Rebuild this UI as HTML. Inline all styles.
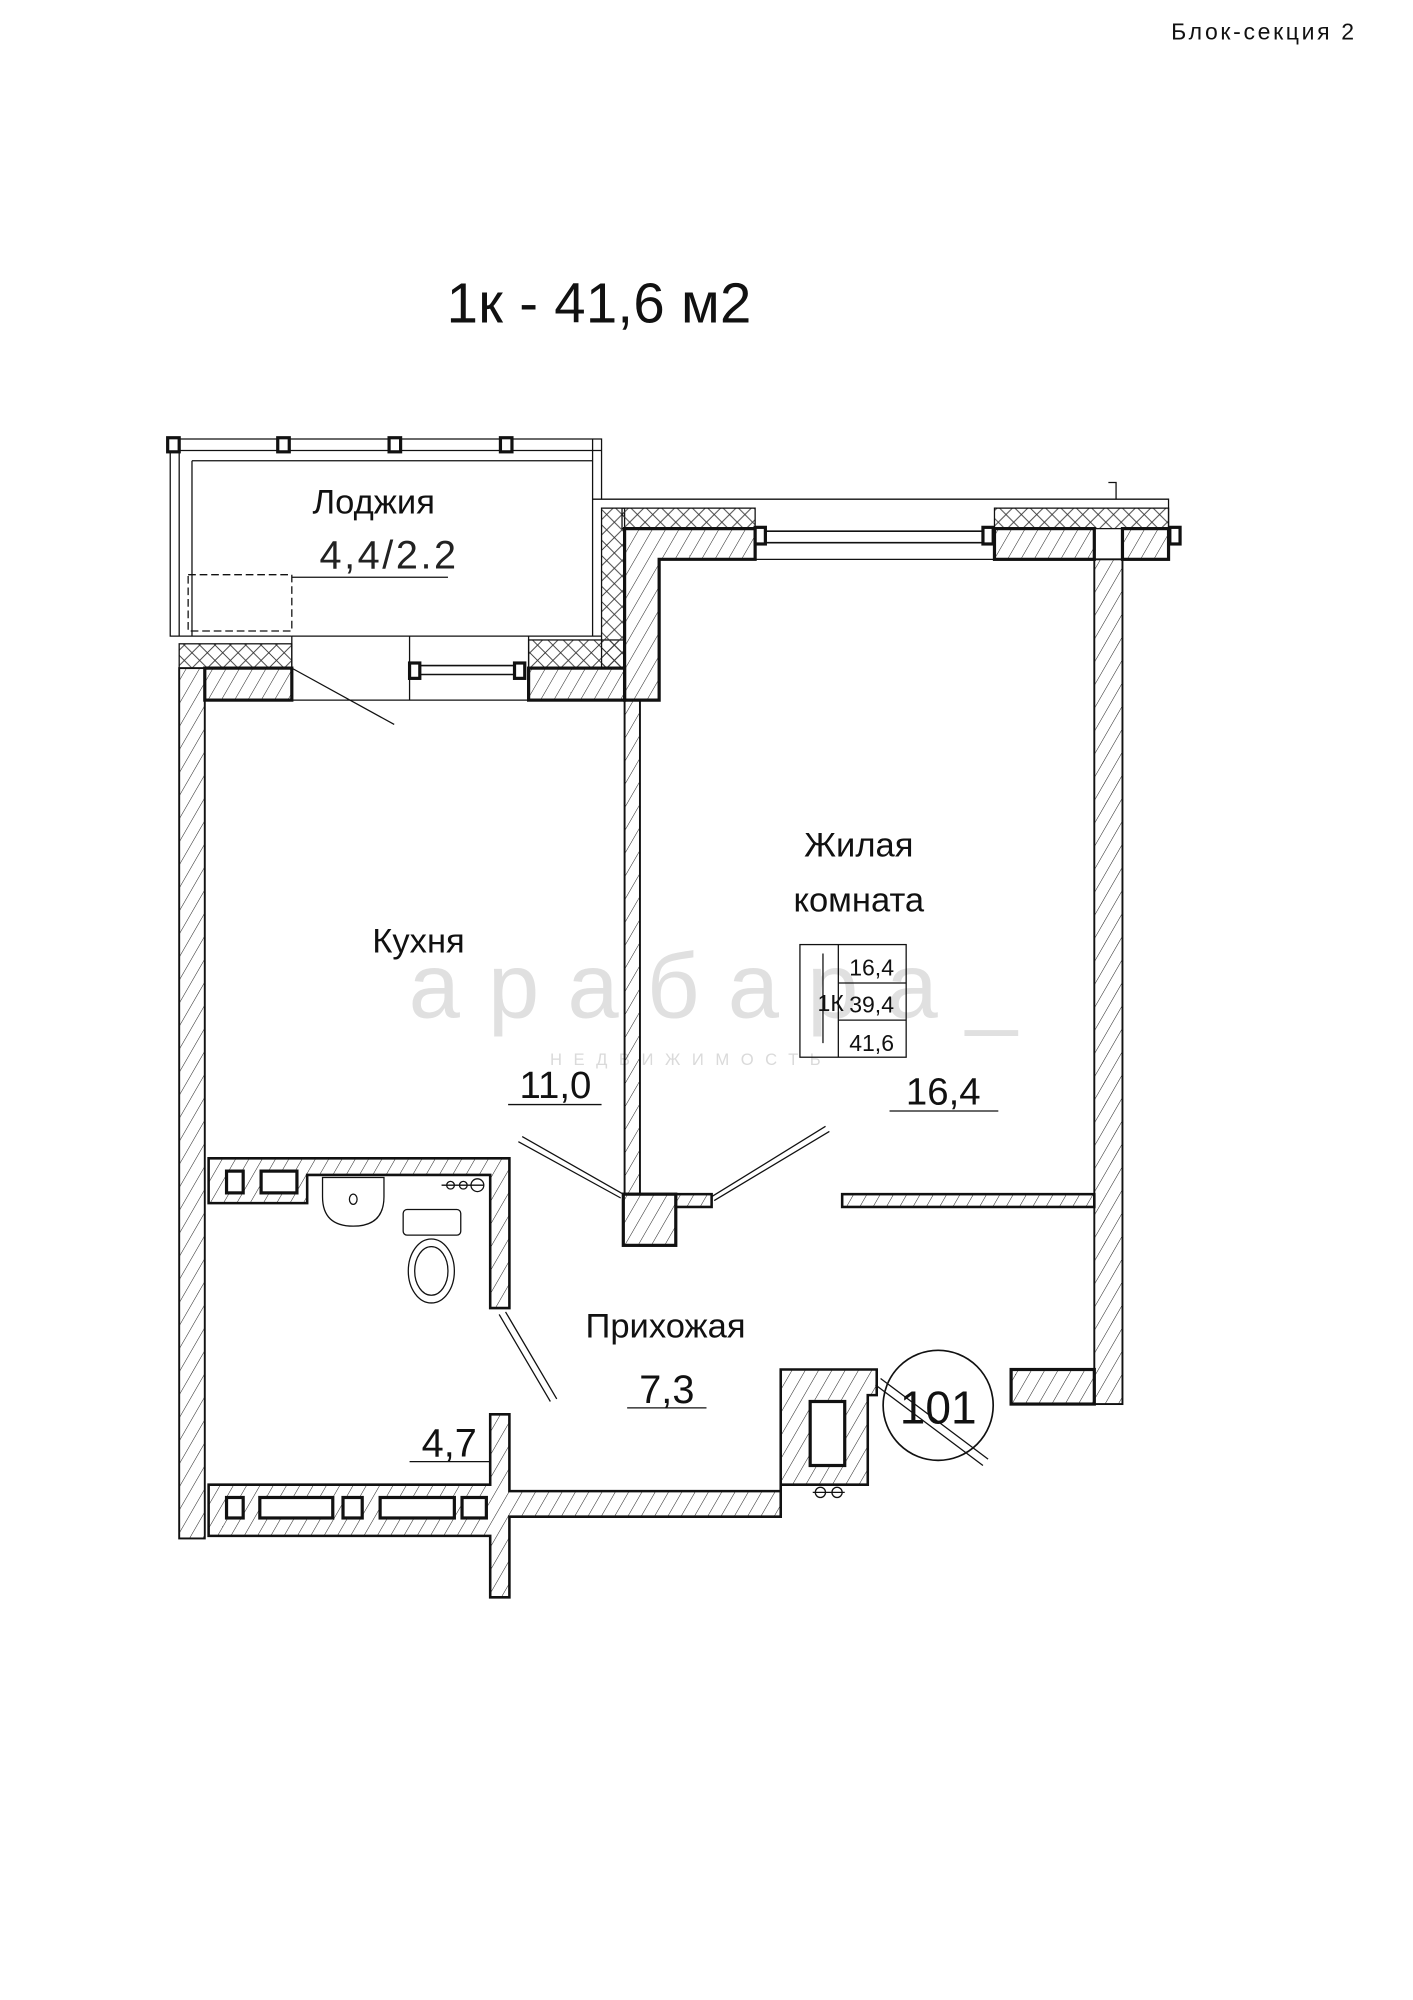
<!DOCTYPE html>
<html><head><meta charset="utf-8"><style>
html,body{margin:0;padding:0;background:#fff}
svg{display:block}
text{font-family:"Liberation Sans",sans-serif;fill:#111}
</style></head><body>
<svg width="1413" height="2000" viewBox="0 0 1104 1562.6" xmlns="http://www.w3.org/2000/svg">
<defs>
<pattern id="h" width="9" height="9" patternUnits="userSpaceOnUse" patternTransform="rotate(30)"><line x1="0" y1="0" x2="0" y2="9" stroke="#222" stroke-width="0.8"/></pattern>
<pattern id="x" width="12" height="12" patternUnits="userSpaceOnUse"><path d="M0 0L12 12M12 0L0 12" stroke="#333" stroke-width="0.7"/></pattern>
</defs>
<rect width="1104" height="1563" fill="#fff"/>
<text x="915" y="31" font-size="18" textLength="143">Блок-секция 2</text>
<text x="349" y="252" font-size="44" textLength="238">1к - 41,6 м2</text>

<!-- watermark -->
<text x="568" y="795" font-size="72" text-anchor="middle" style="fill:#e0e0e0" letter-spacing="22">apaбapa_</text>
<text x="540" y="832" font-size="13" text-anchor="middle" style="fill:#dadada" letter-spacing="9">НЕДВИЖИМОСТЬ</text>

<g fill="none" stroke="#111" stroke-width="1">
<path d="M133 343H470V390M133 343V497H228M140 350V497M150 360V497M150 360H463V497M140 352H470M463 343V390"/>
<rect x="147" y="449" width="81" height="44" stroke-dasharray="6 3"/>
<line x1="228" y1="451" x2="350" y2="451"/>
<path d="M228 497H470M228 497V547M413 497V547M320 497V547M228 547H413"/>
</g>
<g fill="#fff" stroke="#111" stroke-width="2.5">
<rect x="131" y="342" width="9" height="11"/><rect x="217" y="342" width="9" height="11"/><rect x="304" y="342" width="9" height="11"/><rect x="391" y="342" width="9" height="11"/>
</g>

<g stroke="#111" stroke-width="1">
<rect x="140" y="503" width="88" height="19" fill="url(#x)"/>
<rect x="413" y="500" width="75" height="22" fill="url(#x)"/>
<rect x="470" y="397" width="18" height="125" fill="url(#x)"/>
<rect x="486" y="397" width="104" height="16" fill="url(#x)"/>
<rect x="777" y="397" width="136" height="16" fill="url(#x)"/>
<path d="M463 390H590M777 390H913V413M590 390H777M590 437H777M866 377H872V390" fill="none"/>
</g>

<g fill="url(#h)" stroke="#111" stroke-width="2.5">
<rect x="160" y="522" width="68" height="25"/>
<rect x="413" y="522" width="75" height="25"/>
<path d="M488 413H590V437H515V547H488Z"/>
<rect x="777" y="413" width="78" height="24"/>
<rect x="877" y="413" width="36" height="24"/>
<rect x="855" y="437" width="22" height="660" stroke-width="1.5"/>
<rect x="140" y="522" width="20" height="680" stroke-width="1.5"/>
<rect x="488" y="547" width="12" height="386" stroke-width="1.5"/>
<rect x="487" y="933" width="41" height="40"/>
<rect x="528" y="933" width="28" height="10" stroke-width="2"/>
<rect x="658" y="933" width="197" height="10" stroke-width="2"/>
<rect x="790" y="1070" width="65" height="27"/>
<path d="M163 905H398V1022H383V918H240V940H163Z" stroke-width="2"/>
<path d="M163 1160H383V1105H398V1165H610V1070H685V1090H678V1160H610V1185H398V1248H383V1200H163Z" stroke-width="2"/>
</g>
<g fill="none" stroke="#111" stroke-width="1.2">
<path d="M595 415H771M595 424H771M326 520H405M326 527H405"/>
</g>
<g fill="#fff" stroke="#111" stroke-width="2.5">
<rect x="590" y="412" width="8" height="13"/><rect x="768" y="412" width="8" height="13"/><rect x="914" y="412" width="8" height="13"/>
<rect x="320" y="518" width="8" height="12"/><rect x="402" y="518" width="8" height="12"/>
<rect x="177" y="915" width="13" height="17"/><rect x="204" y="915" width="28" height="17"/>
<rect x="177" y="1170" width="13" height="16"/><rect x="203" y="1170" width="57" height="16"/><rect x="268" y="1170" width="15" height="16"/><rect x="297" y="1170" width="58" height="16"/><rect x="361" y="1170" width="19" height="16"/>
<rect x="633" y="1095" width="27" height="50"/>
</g>
<g fill="none" stroke="#111" stroke-width="1">
<path d="M228 522L308 566"/>
<path d="M408 888L487 933M405 892L485 936"/>
<path d="M645 880L556 935M648 884L558 938"/>
<path d="M390 1027L430 1095M395 1025L435 1093"/>
<path d="M252 920H300V935Q300 958 276 958Q252 958 252 935Z"/>
<ellipse cx="276" cy="937" rx="3" ry="4"/>
<rect x="315" y="945" width="45" height="20" rx="3"/>
<ellipse cx="337" cy="993" rx="18" ry="25"/><ellipse cx="337" cy="993" rx="13" ry="19"/>
<path d="M345 926H378"/><circle cx="352" cy="926" r="3"/><circle cx="362" cy="926" r="3"/><circle cx="373" cy="926" r="5"/>
<circle cx="733" cy="1098" r="43" stroke-width="1.3"/>
<path d="M688 1077L772 1140M684 1082L768 1145"/>
<circle cx="641" cy="1166" r="4"/><circle cx="654" cy="1166" r="4"/><path d="M635 1166H660"/>
<path d="M397 863H470M695 868H780M490 1100H552M320 1142H383"/>
<rect x="625" y="738" width="83" height="88"/>
<path d="M655 738V826M655 768H708M655 797H708M643 745V815"/>
</g>

<g font-size="27">
<text x="292" y="401" text-anchor="middle">Лоджия</text>
<text x="304" y="444" text-anchor="middle" font-size="31" style="fill:#222" letter-spacing="2">4,4/2.2</text>
<text x="327" y="744" text-anchor="middle">Кухня</text>
<text x="434" y="858" text-anchor="middle" font-size="30">11,0</text>
<text x="671" y="669" text-anchor="middle">Жилая</text>
<text x="671" y="712" text-anchor="middle">комната</text>
<text x="737" y="863" text-anchor="middle" font-size="30">16,4</text>
<text x="520" y="1045" text-anchor="middle">Прихожая</text>
<text x="521" y="1096" text-anchor="middle" font-size="31">7,3</text>
<text x="351" y="1138" text-anchor="middle" font-size="31">4,7</text>
<text x="733" y="1112" text-anchor="middle" font-size="36">101</text>
<text x="681" y="762" text-anchor="middle" font-size="18">16,4</text>
<text x="681" y="791" text-anchor="middle" font-size="18">39,4</text>
<text x="681" y="821" text-anchor="middle" font-size="18">41,6</text>
<text x="649" y="790" text-anchor="middle" font-size="18">1К</text>
</g>
</svg>
</body></html>
